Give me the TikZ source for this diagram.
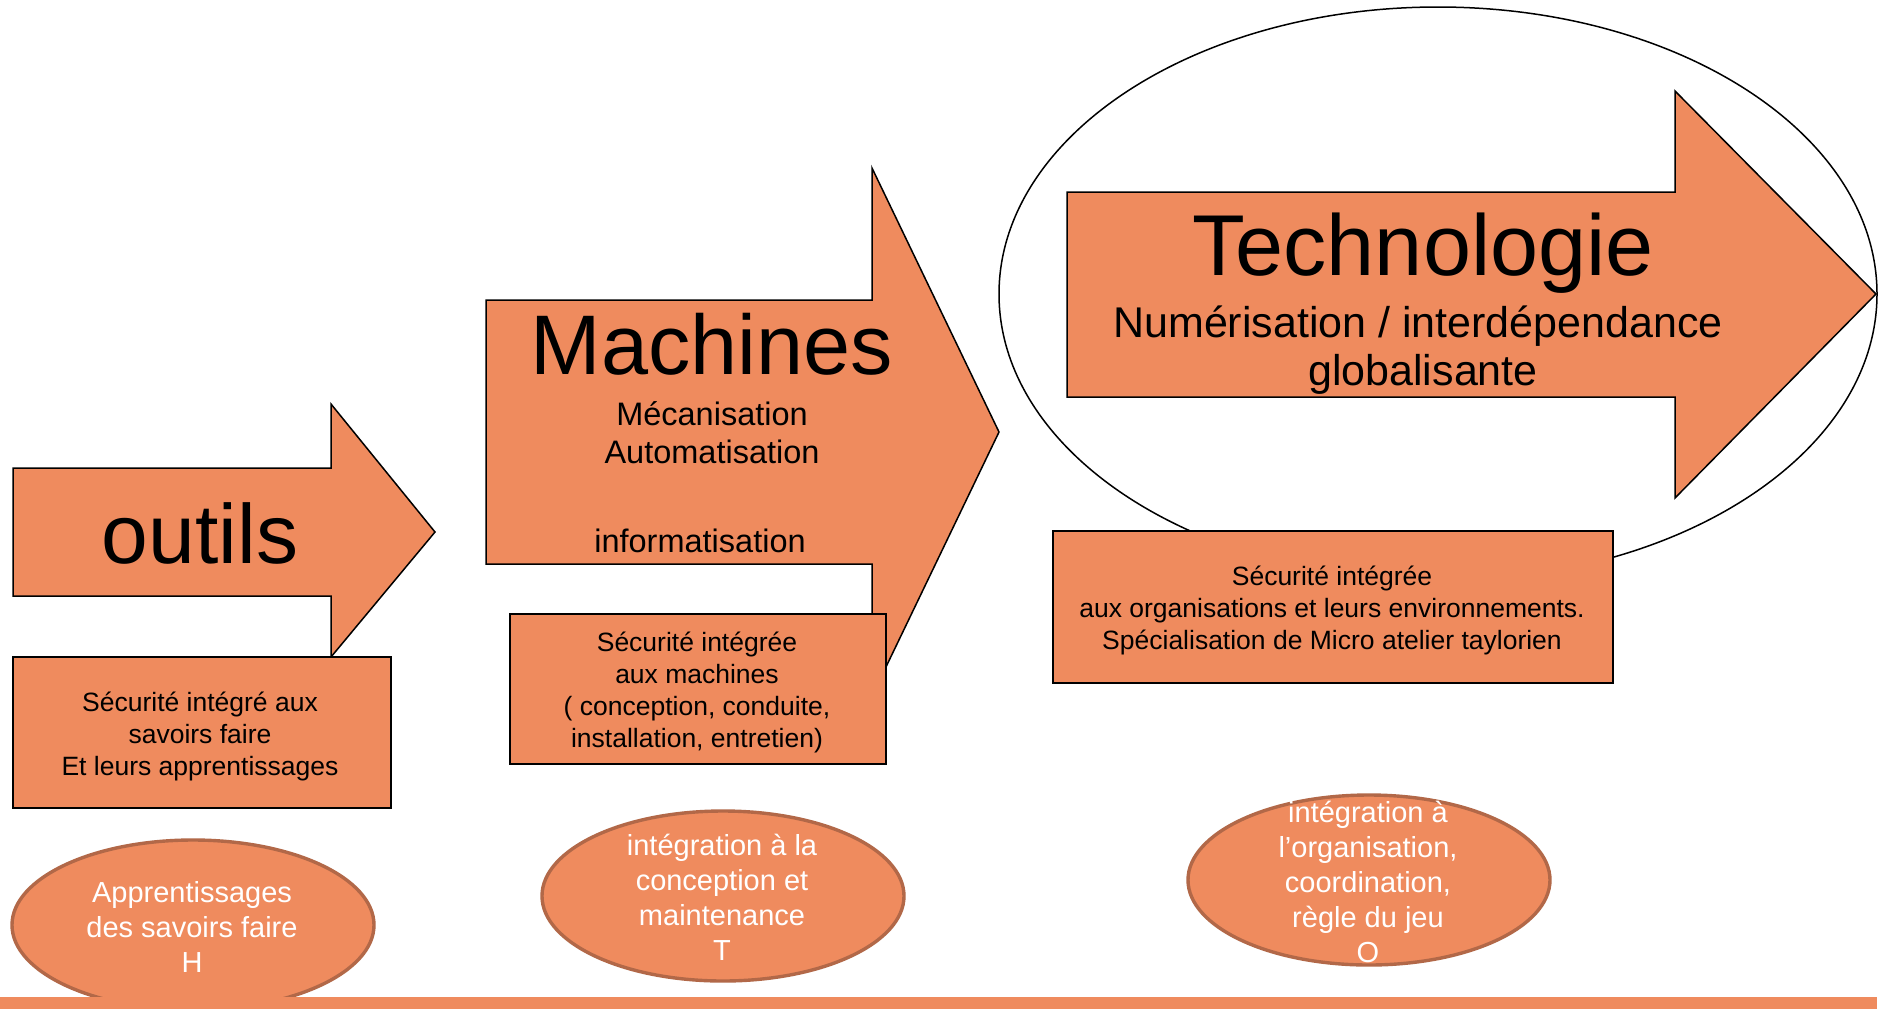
\documentclass[tikz,border=0pt]{standalone}
\usepackage{fontspec}
\setmainfont{Liberation Sans}
\usetikzlibrary{shapes.geometric}
\definecolor{orfill}{RGB}{239,139,94}
\definecolor{ovborder}{RGB}{178,104,72}
\begin{document}
\begin{tikzpicture}[x=0.5pt,y=-0.5pt,
  arrowshape/.style={fill=orfill, draw=black, line width=0.75pt, line join=miter},
  boxnode/.style={rectangle, draw=black, fill=orfill, line width=1pt, inner sep=0pt},
  boxtext/.style={align=center, inner sep=0pt, font=\fontsize{13.25}{16}\selectfont},
  oval/.style={ellipse, draw=ovborder, fill=orfill, line width=1.7pt, minimum width=181pt, minimum height=85pt, inner sep=0pt},
  ovaltext/.style={text=white, align=center, font=\fontsize{14.5}{17.5}\selectfont, inner sep=0pt},
  bigtitle/.style={anchor=base, inner sep=0pt, font=\fontsize{42}{50}\selectfont},
  subtitle/.style={anchor=base, inner sep=0pt, font=\fontsize{16.25}{19.5}\selectfont},
  techsub/.style={anchor=base, inner sep=0pt, font=\fontsize{21.5}{26}\selectfont}]
\useasboundingbox (0,0) rectangle (1880,1008);
\fill[white] (0,0) rectangle (1880,1008);

% big ellipse around technology
\draw[line width=0.75pt] (1438,294) ellipse [x radius=219.5pt, y radius=143.5pt];

% arrows
\draw[arrowshape] (13,468) -- (331,468) -- (331,404) -- (435,532) -- (331,657) -- (331,596) -- (13,596) -- cycle;
\draw[arrowshape] (486,300) -- (872,300) -- (872,168) -- (999,432) -- (872,696) -- (872,564) -- (486,564) -- cycle;
\draw[arrowshape] (1067,192) -- (1675,192) -- (1675,91) -- (1876,294) -- (1675,498) -- (1675,397) -- (1067,397) -- cycle;

% titles
\node[bigtitle] (outils) at (200,563) {outils};
\node[bigtitle, font=\fontsize{42.3}{50}\selectfont] (machines) at (712,374) {Machines};
\node[subtitle] (meca) at (712,425) {Mécanisation};
\node[subtitle] (auto) at (712,463) {Automatisation};
\node[subtitle] (info) at (700,552) {informatisation};
\node[bigtitle, font=\fontsize{43.2}{50}\selectfont] (techno) at (1423,275) {Technologie};
\node[techsub] (numer) at (1418,337) {Numérisation / interdépendance};
\node[techsub] (globa) at (1423,385) {globalisante};

% boxes
\node[boxnode, minimum width=189pt, minimum height=75.5pt] (box1) at (202,732.5) {};
\node[boxtext] (box1t) at (200,736) {Sécurité intégré aux\\savoirs faire\\Et leurs apprentissages};
\node[boxnode, minimum width=188pt, minimum height=75pt] (box2) at (698,689) {};
\node[boxtext] (box2t) at (697,692.5) {Sécurité intégrée\\aux machines\\( conception, conduite,\\installation, entretien)};
\node[boxnode, minimum width=280pt, minimum height=76pt] (box3) at (1333,607) {};
\node[boxtext] (box3t) at (1332,610) {Sécurité intégrée\\aux organisations et leurs environnements.\\Spécialisation de Micro atelier taylorien};

% ovals
\node[oval] (ov1) at (193,925) {};
\node[oval] (ov2) at (723,896) {};
\node[oval] (ov3) at (1369,880) {};
\node[ovaltext] (ov1t) at (192,927) {Apprentissages\\des savoirs faire\\H};
\node[ovaltext] (ov2t) at (722,897) {intégration à la\\conception et\\maintenance\\T};
\node[ovaltext] (ov3t) at (1368,882) {intégration à\\l’organisation,\\coordination,\\règle du jeu\\O};

% bottom bar
\fill[orfill] (0,997) rectangle (1877,1020);
\end{tikzpicture}
\end{document}
